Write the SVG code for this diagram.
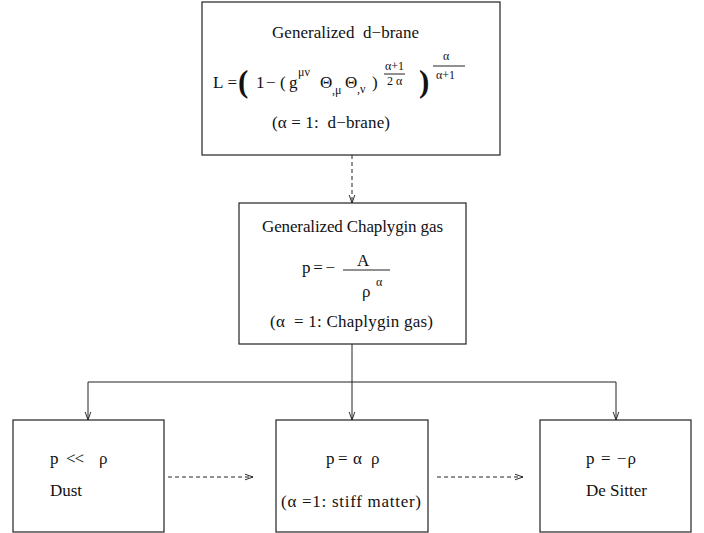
<svg xmlns="http://www.w3.org/2000/svg" width="704" height="533" viewBox="0 0 704 533">
<style>
.box{fill:#fff;stroke:#222;stroke-width:1.2}
.t{font-family:"Liberation Serif","DejaVu Serif",serif;font-size:17px;fill:#111}
.s{font-family:"Liberation Serif","DejaVu Serif",serif;font-size:12px;fill:#111}
.b{font-family:"Liberation Serif","DejaVu Serif",serif;font-size:31px;fill:#111;font-weight:bold}
.ln{stroke:#222;stroke-width:1;fill:none}
.da{stroke:#222;stroke-width:1;fill:none;stroke-dasharray:4 3}
</style>
<defs>
<marker id="ah" viewBox="0 0 10 10" refX="10" refY="5" markerWidth="8" markerHeight="8" markerUnits="userSpaceOnUse" orient="auto">
<path d="M0,1.5 L10,5 L0,8.5" fill="none" stroke="#222" stroke-width="1.2"/>
</marker>
</defs>
<g id="connectors">
<line class="da" x1="352" y1="155" x2="352" y2="203" marker-end="url(#ah)"/>
<polyline class="ln" points="352,344 352,382"/>
<polyline class="ln" points="88,382 616,382 616,420" marker-end="url(#ah)"/>
<line class="ln" x1="88" y1="382" x2="88" y2="420" marker-end="url(#ah)"/>
<line class="ln" x1="352" y1="382" x2="352" y2="420" marker-end="url(#ah)"/>
<line class="da" x1="168" y1="477" x2="253" y2="477" marker-end="url(#ah)"/>
<line class="da" x1="437" y1="477" x2="523" y2="477" marker-end="url(#ah)"/>
</g>
<g id="dbrane">
<rect class="box" x="202" y="2" width="298" height="153"/>
<text class="t" x="272" y="38" textLength="147" xml:space="preserve">Generalized  d−brane</text>
<text class="t" x="213" y="88" textLength="24" xml:space="preserve">L =</text>
<text class="b" x="238" y="92">(</text>
<text class="t" x="256" y="88">1</text>
<text class="t" x="266" y="88">−</text>
<text class="t" x="280" y="88">(</text>
<text class="t" x="289" y="88">g</text>
<text class="s" x="298" y="76">μν</text>
<text class="t" x="320" y="88">Θ</text>
<text class="s" x="332" y="94">,μ</text>
<text class="t" x="345" y="88">Θ</text>
<text class="s" x="357" y="93">,ν</text>
<text class="t" x="372" y="88">)</text>
<text class="s" x="385" y="70">α+1</text>
<line class="ln" x1="384" y1="74" x2="405" y2="74"/>
<text class="s" x="387" y="85">2 α</text>
<text class="b" x="419" y="92">)</text>
<text class="s" x="443" y="60">α</text>
<line class="ln" x1="433" y1="66" x2="465" y2="66"/>
<text class="s" x="436" y="79">α+1</text>
<text class="t" x="272" y="128" textLength="118" xml:space="preserve">(α = 1:  d−brane)</text>
</g>
<g id="chaplygin">
<rect class="box" x="239" y="203" width="227" height="141"/>
<text class="t" x="262" y="232" textLength="181">Generalized Chaplygin gas</text>
<text class="t" x="302" y="273" textLength="33">p = −</text>
<text class="t" x="357" y="266">A</text>
<line class="ln" x1="343" y1="270" x2="390" y2="270"/>
<text class="t" x="362" y="297">ρ</text>
<text class="s" x="376" y="286">α</text>
<text class="t" x="270" y="327" textLength="163" xml:space="preserve">(α  = 1: Chaplygin gas)</text>
</g>
<g id="dust">
<rect class="box" x="13" y="420" width="151" height="112"/>
<text class="t" x="50" y="464">p</text>
<text class="t" x="66" y="464" textLength="18">&lt;&lt;</text>
<text class="t" x="99" y="464">ρ</text>
<text class="t" x="50" y="496" textLength="32">Dust</text>
</g>
<g id="stiff">
<rect class="box" x="276" y="420" width="152" height="112"/>
<text class="t" x="326" y="464">p</text>
<text class="t" x="338" y="464">=</text>
<text class="t" x="353" y="464">α</text>
<text class="t" x="371" y="464">ρ</text>
<text class="t" x="281" y="507" textLength="140">(α =1: stiff matter)</text>
</g>
<g id="desitter">
<rect class="box" x="540" y="420" width="151" height="112"/>
<text class="t" x="586" y="464" textLength="50">p = −ρ</text>
<text class="t" x="586" y="496" textLength="61">De Sitter</text>
</g>
</svg>
